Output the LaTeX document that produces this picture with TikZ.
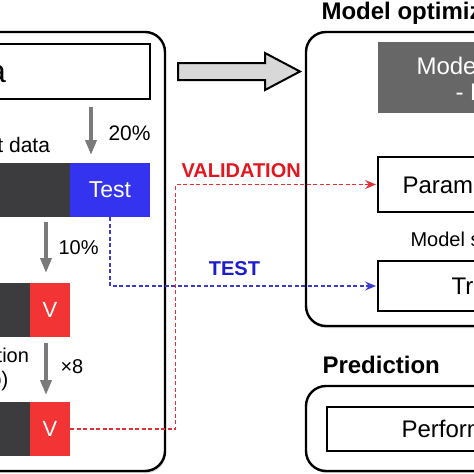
\documentclass[tikz,border=0pt]{standalone}
\usepackage{fontspec}
\setmainfont{Liberation Sans}
\usetikzlibrary{arrows.meta,shadows}
\definecolor{darkbar}{HTML}{3C3C3E}
\definecolor{testblue}{HTML}{3434F0}
\definecolor{vred}{HTML}{F23434}
\definecolor{darkbox}{HTML}{676767}
\definecolor{arrowgray}{HTML}{7A7A7A}
\definecolor{biggray}{HTML}{D8D8D8}
\definecolor{valred}{HTML}{E2161E}
\definecolor{testtxt}{HTML}{1C1CCC}
\definecolor{reddash}{HTML}{E03038}
\definecolor{bluedash}{HTML}{3C3CCC}
\begin{document}
\begin{tikzpicture}[x=1pt,y=-1pt,
  panel/.style={draw=black,line width=2.4pt,rounded corners=20pt,fill=white,
    inner sep=0pt,outer sep=0pt,anchor=north west,
    drop shadow={shadow xshift=1pt,shadow yshift=-2pt,fill=black!35}},
  box/.style={draw=black,line width=1.8pt,fill=white,inner sep=0pt,outer sep=0pt,anchor=north west},
  bar/.style={inner sep=0pt,outer sep=0pt,anchor=north west,minimum height=54pt},
  f24/.style={font=\fontsize{24}{28}\selectfont},
  f21/.style={font=\fontsize{21}{25}\selectfont},
  f20/.style={font=\fontsize{20}{24}\selectfont},
  b24/.style={font=\bfseries\fontsize{24}{28}\selectfont},
  b20/.style={font=\bfseries\fontsize{20}{24}\selectfont},
  grayarrow/.style={draw=arrowgray,line width=3.5pt,-{Triangle[length=15pt,width=11pt]}},
  dashconn/.style={line width=1.6pt,dash pattern=on 4pt off 2.5pt,
    -{Stealth[length=11pt,width=9pt,inset=4pt]},shorten >=2pt}
]
\useasboundingbox (0,0) rectangle (474,474);
\clip (0,0) rectangle (474,474);
\fill[white] (0,0) rectangle (474,474);

% left panel
\node[panel,minimum width=230pt,minimum height=439pt] (lpanel) at (-65,32) {};
\node[box,minimum width=170pt,minimum height=55pt] (topbox) at (-20,44) {};
\node[anchor=base east,font=\fontsize{32}{36}\selectfont] (toptext) at (9.5,82) {Total data};
\node[anchor=base east,f21] (splittext) at (53.5,152) {Train/test data};
\node[anchor=base west,f21] (pct20) at (105,140) {20\%};

\node[bar,fill=darkbar,minimum width=90pt] (dark1) at (-20,163) {};
\node[bar,fill=testblue,minimum width=80pt,text=white,font=\fontsize{23}{27}\selectfont] (test) at (70,163) {Test};

\node[anchor=base west,f20] (pct10) at (55,254) {10\%};

\node[bar,fill=darkbar,minimum width=50pt] (dark2) at (-20,283) {};
\node[bar,fill=vred,minimum width=40pt,text=white,font=\fontsize{22}{26}\selectfont] (v2) at (30,283) {V};

\node[anchor=base east,f20] (cvtext) at (32.5,362) {Cross-validation};
\node[anchor=base east,f21] (cvtext2) at (12,386) {(bootstrap)};
\node[anchor=base west,f20] (times8) at (57,373) {×8};

\node[bar,fill=darkbar,minimum width=50pt] (dark3) at (-20,402) {};
\node[bar,fill=vred,minimum width=40pt,text=white,font=\fontsize{22}{26}\selectfont] (v3) at (30,402) {V};

\draw[grayarrow] ([yshift=-8pt]topbox.south -| pct20.west) ++(-14,0) coordinate (a1s) -- ([yshift=8pt]a1s |- test.north);
\draw[grayarrow] ([xshift=-4pt,yshift=-5pt]v2.north |- test.south) coordinate (a2s) -- ([yshift=10pt]a2s |- v2.north);
\draw[grayarrow] ([xshift=-4pt,yshift=-6pt]v2.south) coordinate (a3s) -- ([yshift=7pt]a3s |- v3.north);

% big arrow
\draw[line width=2pt,fill=biggray,line join=miter]
  (178,63) -- (265,63) -- (265,53) -- (300,71.5) -- (265,90) -- (265,80) -- (178,80) -- cycle;

% right panel
\node[b24,anchor=base west] (opttitle) at (318,19) {Model optimization};
\node[panel,minimum width=220pt,minimum height=294pt] (rpanel) at (306,32) {};
\node[inner sep=0pt,outer sep=0pt,anchor=north west,fill=darkbox,minimum width=130pt,minimum height=71pt] (modelbox) at (378,42) {};
\node[anchor=base west,f24,text=white] (modeltext) at (413,74) {Model training};
\node[anchor=base west,f24,text=white] (modeltext2) at (452,100) {- Feature selection};
\node[box,minimum width=130pt,minimum height=55pt] (param) at (378,157) {};
\node[anchor=base west,f24] (paramtext) at (399,193) {Parameter tuning};
\node[anchor=base west,f20] (seltext) at (407,246) {Model selection};
\node[box,minimum width=130pt,minimum height=50pt] (tra) at (378,261) {};
\node[anchor=base west,f24] (tratext) at (448,294) {Training};

% prediction panel
\node[b24,anchor=base west] (predtitle) at (319,373) {Prediction};
\node[panel,minimum width=220pt,minimum height=85pt] (ppanel) at (306,386) {};
\node[box,minimum width=180pt,minimum height=44pt] (perf) at (327,407) {};
\node[anchor=base west,f24] (perftext) at (398,437) {Performance evaluation};

% connectors
\draw[dashconn,draw=bluedash] (test.south) |- (tra.west);
\coordinate (redturn) at (175.5,429);
\draw[dashconn,draw=reddash] (v3.east) -- (redturn) |- (param.west);
\node[anchor=base west,b20,text=valred] (vallabel) at (178,177) {VALIDATION};
\node[anchor=base east,b20,text=testtxt] (testlabel) at (263.5,275) {TEST};
\end{tikzpicture}
\end{document}
